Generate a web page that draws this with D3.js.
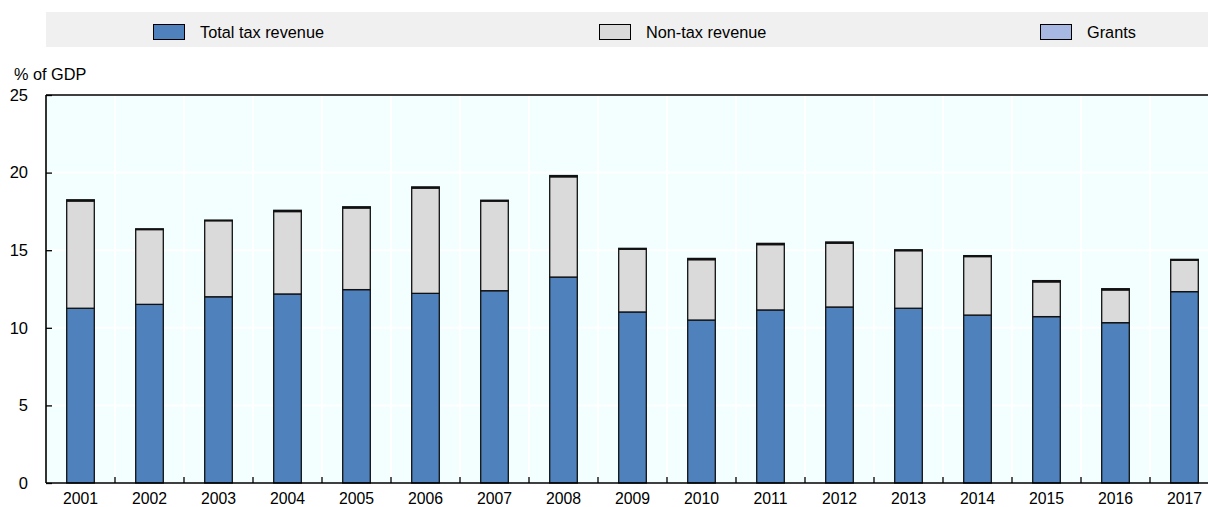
<!DOCTYPE html>
<html><head><meta charset="utf-8">
<script src="https://cdn.jsdelivr.net/npm/d3@7/dist/d3.min.js"></script>
<style>
html,body{margin:0;padding:0;background:#fff;}
svg{display:block;font-family:"Liberation Sans",Arial,sans-serif;}
</style></head>
<body>
<svg id="chart" width="1208" height="507"></svg>
<script>
const years = ["2001","2002","2003","2004","2005","2006","2007","2008","2009","2010","2011","2012","2013","2014","2015","2016","2017"];
const taxRevenue = [11.26,11.51,12.00,12.18,12.46,12.22,12.39,13.27,11.02,10.50,11.15,11.34,11.26,10.82,10.72,10.33,12.33];
const totalRevenue = [18.25,16.38,16.94,17.57,17.80,19.08,18.22,19.81,15.12,14.47,15.44,15.53,15.03,14.65,13.04,12.52,14.41];
const grants = [0.08,0.05,0.04,0.08,0.08,0.08,0.06,0.08,0.06,0.08,0.08,0.08,0.06,0.06,0.08,0.08,0.06];
const nonTaxRevenue = totalRevenue.map((t,i)=>+(t - taxRevenue[i] - grants[i]).toFixed(2));
const seriesNames = ["Total tax revenue","Non-tax revenue","Grants"];
const seriesColors = ["#4F81BD","#DADADA","#A7B9E3"];
const yTicks = [0,5,10,15,20,25];

(function(){
const svg = d3.select("#chart");
const pL = 46, pT = 95, pB = 483, pR = 1219;

const x = d3.scaleBand().domain(years).range([pL,pR]).paddingInner(0).paddingOuter(0);
const y = d3.scaleLinear().domain([0,25]).range([pB,pT]);

// legend
svg.append("rect").attr("x",46).attr("y",12).attr("width",1162).attr("height",35).attr("fill","#F0F0F0");
const legendX = [153,599,1040];
seriesNames.forEach((n,i)=>{
  svg.append("rect").attr("x",legendX[i]+0.5).attr("y",24.5).attr("width",31).attr("height",15)
    .attr("fill",seriesColors[i]).attr("stroke","#000").attr("stroke-width",1);
  svg.append("text").attr("x",legendX[i]+47).attr("y",38).attr("font-size",16.3).attr("fill","#000").text(n);
});

svg.append("text").attr("x",14).attr("y",80).attr("font-size",16.3).attr("fill","#000").text("% of GDP");

// plot bg
svg.append("rect").attr("x",pL).attr("y",pT).attr("width",pR-pL).attr("height",pB-pT).attr("fill","#F3FEFF");

// grid
svg.append("g").selectAll("line").data(yTicks.slice(1,-1)).join("line")
  .attr("x1",pL).attr("x2",pR).attr("y1",d=>y(d)).attr("y2",d=>y(d))
  .attr("stroke","#fff").attr("stroke-width",2);
svg.append("g").selectAll("line").data(years.slice(1)).join("line")
  .attr("x1",d=>x(d)).attr("x2",d=>x(d)).attr("y1",pT).attr("y2",pB)
  .attr("stroke","#fff").attr("stroke-width",2);

// stacked bars
const data = years.map((yr,i)=>({year:yr,tax:taxRevenue[i],nontax:nonTaxRevenue[i],grants:grants[i]}));
const stack = d3.stack().keys(["tax","nontax","grants"])(data);
const bw = x.bandwidth()*0.4;
svg.append("g").selectAll("g").data(stack).join("g")
  .attr("fill",(d,i)=>seriesColors[i])
  .selectAll("rect").data(d=>d).join("rect")
  .attr("x",d=>x(d.data.year)+(x.bandwidth()-bw)/2)
  .attr("width",bw)
  .attr("y",d=>y(d[1]))
  .attr("height",d=>y(d[0])-y(d[1]))
  .attr("stroke","#111").attr("stroke-width",1.3);

// axes
const yAxis = d3.axisLeft(y).tickValues(yTicks).tickSize(-6).tickPadding(18).tickFormat(d3.format("d"));
const gy = svg.append("g").attr("transform",`translate(${pL},0)`).call(yAxis);
gy.select(".domain").remove();
gy.selectAll(".tick line").attr("stroke","#000").attr("stroke-width",1.3);
gy.selectAll("text").attr("font-size",16.5).attr("fill","#000").attr("font-family","Liberation Sans, Arial, sans-serif");

const xAxis = d3.axisBottom(x).tickSize(0).tickPadding(10);
const gx = svg.append("g").attr("transform",`translate(0,${pB})`).call(xAxis);
gx.select(".domain").remove();
gx.selectAll("text").attr("font-size",15.8).attr("fill","#000").attr("font-family","Liberation Sans, Arial, sans-serif");

// x ticks at band boundaries (inward)
svg.append("g").selectAll("line").data(years.slice(1)).join("line")
  .attr("x1",d=>x(d)).attr("x2",d=>x(d)).attr("y1",pB).attr("y2",pB-6)
  .attr("stroke","#000").attr("stroke-width",1.3);

// frame lines
svg.append("line").attr("x1",pL).attr("x2",pL).attr("y1",pT).attr("y2",pB).attr("stroke","#000").attr("stroke-width",1.6);
svg.append("line").attr("x1",pL).attr("x2",pR).attr("y1",pB).attr("y2",pB).attr("stroke","#000").attr("stroke-width",1.6);
svg.append("line").attr("x1",pL).attr("x2",pR).attr("y1",pT).attr("y2",pT).attr("stroke","#000").attr("stroke-width",1.6);
})();
</script>
</body></html>
